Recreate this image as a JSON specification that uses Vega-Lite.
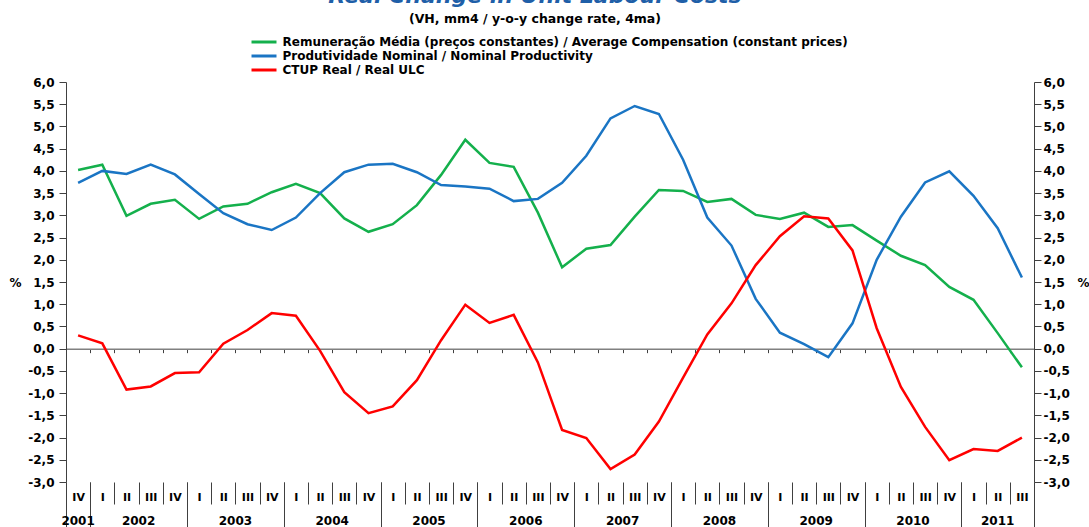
{
  "$schema": "https://vega.github.io/schema/vega-lite/v6.json",
  "width": 968,
  "height": 400,
  "autosize": {"type": "none"},
  "padding": {"left": 66, "top": 82, "right": 55, "bottom": 45},
  "config": {"view": {"stroke": null}, "font": "DejaVu Sans"},
  "title": {
    "text": "Real Change in Unit Labour Costs",
    "subtitle": "(VH, mm4 / y-o-y change rate, 4ma)",
    "color": "#1F5FA8",
    "font": "DejaVu Sans",
    "fontSize": 22,
    "fontWeight": "bold",
    "fontStyle": "italic",
    "subtitleFont": "DejaVu Sans",
    "subtitleColor": "#000000",
    "subtitleFontSize": 12.5,
    "subtitleFontWeight": "bold",
    "subtitlePadding": 5,
    "anchor": "middle",
    "frame": "group",
    "dx": -15,
    "offset": 9.5
  },
  "data": {"values": [
    {"p":"2001-IV","s":"A","v":4.02},{"p":"2002-I","s":"A","v":4.14},{"p":"2002-II","s":"A","v":2.99},{"p":"2002-III","s":"A","v":3.26},{"p":"2002-IV","s":"A","v":3.35},
    {"p":"2003-I","s":"A","v":2.92},{"p":"2003-II","s":"A","v":3.20},{"p":"2003-III","s":"A","v":3.26},{"p":"2003-IV","s":"A","v":3.52},
    {"p":"2004-I","s":"A","v":3.71},{"p":"2004-II","s":"A","v":3.50},{"p":"2004-III","s":"A","v":2.93},{"p":"2004-IV","s":"A","v":2.63},
    {"p":"2005-I","s":"A","v":2.80},{"p":"2005-II","s":"A","v":3.23},{"p":"2005-III","s":"A","v":3.91},{"p":"2005-IV","s":"A","v":4.70},
    {"p":"2006-I","s":"A","v":4.18},{"p":"2006-II","s":"A","v":4.09},{"p":"2006-III","s":"A","v":3.06},{"p":"2006-IV","s":"A","v":1.83},
    {"p":"2007-I","s":"A","v":2.25},{"p":"2007-II","s":"A","v":2.33},{"p":"2007-III","s":"A","v":2.97},{"p":"2007-IV","s":"A","v":3.57},
    {"p":"2008-I","s":"A","v":3.55},{"p":"2008-II","s":"A","v":3.30},{"p":"2008-III","s":"A","v":3.37},{"p":"2008-IV","s":"A","v":3.01},
    {"p":"2009-I","s":"A","v":2.92},{"p":"2009-II","s":"A","v":3.06},{"p":"2009-III","s":"A","v":2.74},{"p":"2009-IV","s":"A","v":2.78},
    {"p":"2010-I","s":"A","v":2.43},{"p":"2010-II","s":"A","v":2.09},{"p":"2010-III","s":"A","v":1.88},{"p":"2010-IV","s":"A","v":1.39},
    {"p":"2011-I","s":"A","v":1.10},{"p":"2011-II","s":"A","v":0.35},{"p":"2011-III","s":"A","v":-0.42},

    {"p":"2001-IV","s":"B","v":3.73},{"p":"2002-I","s":"B","v":4.00},{"p":"2002-II","s":"B","v":3.93},{"p":"2002-III","s":"B","v":4.14},{"p":"2002-IV","s":"B","v":3.92},
    {"p":"2003-I","s":"B","v":3.48},{"p":"2003-II","s":"B","v":3.05},{"p":"2003-III","s":"B","v":2.80},{"p":"2003-IV","s":"B","v":2.67},
    {"p":"2004-I","s":"B","v":2.95},{"p":"2004-II","s":"B","v":3.50},{"p":"2004-III","s":"B","v":3.97},{"p":"2004-IV","s":"B","v":4.14},
    {"p":"2005-I","s":"B","v":4.16},{"p":"2005-II","s":"B","v":3.97},{"p":"2005-III","s":"B","v":3.68},{"p":"2005-IV","s":"B","v":3.65},
    {"p":"2006-I","s":"B","v":3.60},{"p":"2006-II","s":"B","v":3.32},{"p":"2006-III","s":"B","v":3.37},{"p":"2006-IV","s":"B","v":3.73},
    {"p":"2007-I","s":"B","v":4.34},{"p":"2007-II","s":"B","v":5.18},{"p":"2007-III","s":"B","v":5.46},{"p":"2007-IV","s":"B","v":5.28},
    {"p":"2008-I","s":"B","v":4.25},{"p":"2008-II","s":"B","v":2.95},{"p":"2008-III","s":"B","v":2.32},{"p":"2008-IV","s":"B","v":1.12},
    {"p":"2009-I","s":"B","v":0.36},{"p":"2009-II","s":"B","v":0.10},{"p":"2009-III","s":"B","v":-0.19},{"p":"2009-IV","s":"B","v":0.57},
    {"p":"2010-I","s":"B","v":2.00},{"p":"2010-II","s":"B","v":2.97},{"p":"2010-III","s":"B","v":3.74},{"p":"2010-IV","s":"B","v":3.99},
    {"p":"2011-I","s":"B","v":3.44},{"p":"2011-II","s":"B","v":2.71},{"p":"2011-III","s":"B","v":1.60},

    {"p":"2001-IV","s":"C","v":0.30},{"p":"2002-I","s":"C","v":0.12},{"p":"2002-II","s":"C","v":-0.92},{"p":"2002-III","s":"C","v":-0.85},{"p":"2002-IV","s":"C","v":-0.55},
    {"p":"2003-I","s":"C","v":-0.53},{"p":"2003-II","s":"C","v":0.11},{"p":"2003-III","s":"C","v":0.42},{"p":"2003-IV","s":"C","v":0.80},
    {"p":"2004-I","s":"C","v":0.74},{"p":"2004-II","s":"C","v":-0.05},{"p":"2004-III","s":"C","v":-0.98},{"p":"2004-IV","s":"C","v":-1.45},
    {"p":"2005-I","s":"C","v":-1.30},{"p":"2005-II","s":"C","v":-0.71},{"p":"2005-III","s":"C","v":0.19},{"p":"2005-IV","s":"C","v":0.99},
    {"p":"2006-I","s":"C","v":0.58},{"p":"2006-II","s":"C","v":0.76},{"p":"2006-III","s":"C","v":-0.31},{"p":"2006-IV","s":"C","v":-1.83},
    {"p":"2007-I","s":"C","v":-2.01},{"p":"2007-II","s":"C","v":-2.71},{"p":"2007-III","s":"C","v":-2.38},{"p":"2007-IV","s":"C","v":-1.64},
    {"p":"2008-I","s":"C","v":-0.65},{"p":"2008-II","s":"C","v":0.32},{"p":"2008-III","s":"C","v":1.02},{"p":"2008-IV","s":"C","v":1.88},
    {"p":"2009-I","s":"C","v":2.53},{"p":"2009-II","s":"C","v":2.98},{"p":"2009-III","s":"C","v":2.93},{"p":"2009-IV","s":"C","v":2.21},
    {"p":"2010-I","s":"C","v":0.46},{"p":"2010-II","s":"C","v":-0.86},{"p":"2010-III","s":"C","v":-1.76},{"p":"2010-IV","s":"C","v":-2.51},
    {"p":"2011-I","s":"C","v":-2.26},{"p":"2011-II","s":"C","v":-2.30},{"p":"2011-III","s":"C","v":-2.00}
  ]},
  "resolve": {"axis": {"x": "independent", "y": "independent"}},
  "layer": [
    {
      "mark": {"type": "line", "strokeWidth": 2.5},
      "encoding": {
        "x": {
          "field": "p", "type": "ordinal",
          "scale": {"type": "band", "paddingInner": 0, "paddingOuter": 0,
            "domain": ["2001-IV","2002-I","2002-II","2002-III","2002-IV","2003-I","2003-II","2003-III","2003-IV","2004-I","2004-II","2004-III","2004-IV","2005-I","2005-II","2005-III","2005-IV","2006-I","2006-II","2006-III","2006-IV","2007-I","2007-II","2007-III","2007-IV","2008-I","2008-II","2008-III","2008-IV","2009-I","2009-II","2009-III","2009-IV","2010-I","2010-II","2010-III","2010-IV","2011-I","2011-II","2011-III"]},
          "axis": {"orient": "bottom", "title": null, "domain": false, "tickBand": "extent", "tickSize": 22, "tickColor": "#404040",
            "labelExpr": "split(datum.value, '-')[1]", "labelAngle": 0, "labelFont": "DejaVu Sans", "labelFontWeight": "bold", "labelFontSize": 11,
            "labelColor": "#000000", "labelPadding": -7, "labelBaseline": "middle", "labelOverlap": false}
        },
        "y": {
          "field": "v", "type": "quantitative",
          "scale": {"domain": [-3, 6], "nice": false, "zero": false},
          "axis": {"orient": "left", "values": [-3,-2.5,-2,-1.5,-1,-0.5,0,0.5,1,1.5,2,2.5,3,3.5,4,4.5,5,5.5,6],
            "labelExpr": "replace(replace(format(datum.value, '.1f'), '.', ','), '\u2212', '-')",
            "grid": false, "domainColor": "#404040", "tickColor": "#404040", "tickSize": 7, "labelPadding": 5,
            "labelFont": "DejaVu Sans", "labelFontWeight": "bold", "labelFontSize": 12, "labelColor": "#000000",
            "title": "%", "titleAngle": 0, "titleX": -51, "titleY": 200, "titleAlign": "center", "titleBaseline": "middle",
            "titleFont": "DejaVu Sans", "titleFontWeight": "bold", "titleFontSize": 12, "titleColor": "#000000"}
        },
        "color": {
          "field": "s", "type": "nominal",
          "scale": {"domain": ["A", "B", "C"], "range": ["#14B04C", "#1A75C4", "#FF0000"]},
          "legend": {"orient": "none", "legendX": 191.5, "legendY": -46.5, "title": null, "symbolType": "M-2.5,0H2.5",
            "symbolSize": 100, "symbolStrokeWidth": 3, "labelFont": "DejaVu Sans", "labelFontSize": 12, "labelFontWeight": "bold", "labelColor": "#000000",
            "labelLimit": 0, "labelOffset": 12, "rowPadding": 1,
            "labelExpr": "datum.label == 'A' ? 'Remuneração Média (preços constantes) / Average Compensation (constant prices)' : datum.label == 'B' ? 'Produtividade Nominal / Nominal Productivity' : 'CTUP Real / Real ULC'"}
        }
      }
    },
    {
      "mark": {"type": "point", "opacity": 0},
      "encoding": {
        "x": {"field": "p", "type": "ordinal",
          "axis": {"orient": "bottom", "offset": -133.33, "title": null, "labels": false, "domain": true, "domainColor": "#808080",
            "domainWidth": 1.5, "tickBand": "extent", "tickSize": 4, "tickColor": "#404040"}},
        "y": {"field": "v", "type": "quantitative",
          "axis": {"orient": "right", "values": [-3,-2.5,-2,-1.5,-1,-0.5,0,0.5,1,1.5,2,2.5,3,3.5,4,4.5,5,5.5,6],
            "labelExpr": "replace(replace(format(datum.value, '.1f'), '.', ','), '\u2212', '-')",
            "grid": false, "domainColor": "#404040", "tickColor": "#404040", "tickSize": 7, "labelPadding": 2,
            "labelFont": "DejaVu Sans", "labelFontWeight": "bold", "labelFontSize": 12, "labelColor": "#000000",
            "title": "%", "titleAngle": 0, "titleX": 49, "titleY": 200, "titleAlign": "center", "titleBaseline": "middle",
            "titleFont": "DejaVu Sans", "titleFontWeight": "bold", "titleFontSize": 12, "titleColor": "#000000"}}
      }
    },
    {
      "mark": {"type": "point", "opacity": 0},
      "encoding": {
        "x": {"field": "p", "type": "ordinal",
          "axis": {"orient": "bottom", "title": null, "labels": false, "domain": false, "tickBand": "extent", "tickSize": 45, "tickColor": "#404040",
            "values": ["2001-IV","2002-IV","2003-IV","2004-IV","2005-IV","2006-IV","2007-IV","2008-IV","2009-IV","2010-IV","2011-III"]}},
        "y": {"field": "v", "type": "quantitative", "axis": null}
      }
    },
    {
      "mark": {"type": "point", "opacity": 0},
      "encoding": {
        "x": {"field": "p", "type": "ordinal",
          "axis": {"orient": "bottom", "title": null, "ticks": false, "domain": false, "labelOffset": 12.1,
            "values": ["2002-II","2003-II","2004-II","2005-II","2006-II","2007-II","2008-II","2009-II","2010-II"],
            "labelExpr": "slice(datum.value, 0, 4)", "labelAngle": 0, "labelFont": "DejaVu Sans", "labelFontWeight": "bold", "labelFontSize": 12,
            "labelColor": "#000000", "labelPadding": 38, "labelBaseline": "middle", "labelOverlap": false}},
        "y": {"field": "v", "type": "quantitative", "axis": null}
      }
    },
    {
      "mark": {"type": "point", "opacity": 0},
      "encoding": {
        "x": {"field": "p", "type": "ordinal",
          "axis": {"orient": "bottom", "title": null, "ticks": false, "domain": false,
            "values": ["2001-IV","2011-II"],
            "labelExpr": "slice(datum.value, 0, 4)", "labelAngle": 0, "labelFont": "DejaVu Sans", "labelFontWeight": "bold", "labelFontSize": 12,
            "labelColor": "#000000", "labelPadding": 38, "labelBaseline": "middle", "labelOverlap": false}},
        "y": {"field": "v", "type": "quantitative", "axis": null}
      }
    }
  ]
}
